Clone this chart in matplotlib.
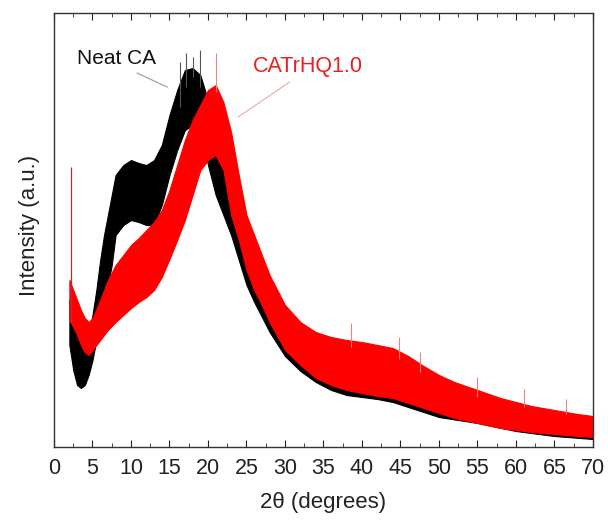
import numpy as np
import matplotlib
matplotlib.use("Agg")
import matplotlib.pyplot as plt
from matplotlib.ticker import MultipleLocator

plt.rcParams['font.family'] = ['Liberation Sans', 'DejaVu Sans']

# ---- data (intensity in arbitrary units) ----
neat_x = [2, 2.5, 3, 3.5, 4, 4.5, 5, 5.5, 6, 6.5, 7, 7.5, 8, 9, 10, 11, 12, 13, 14, 15,
          16, 17, 18, 19, 20, 21, 22, 23, 24, 25, 26, 27, 28, 30, 32, 34, 36, 38, 40, 42,
          44, 46, 48, 50, 55, 60, 65, 70]
neat_upper = [147, 127, 112, 102, 102, 112, 132, 157, 187, 212, 232, 252, 272, 282, 287, 284,
              282, 287, 302, 332, 357, 377, 379, 372, 347, 317, 287, 262, 237, 212, 192, 175,
              159, 135, 117, 105, 97, 92, 87, 85, 82, 77, 69, 62, 52, 42, 35, 29]
neat_lower = [102, 77, 62, 59, 62, 72, 87, 107, 127, 147, 162, 182, 212, 222, 227, 225, 222,
              222, 242, 272, 297, 317, 322, 317, 282, 252, 232, 212, 187, 162, 145, 130, 115,
              91, 76, 65, 57, 52, 50, 48, 45, 40, 35, 30, 24, 16, 11, 8]

hq_x = [2, 2.5, 3, 3.5, 4, 4.5, 5, 6, 7, 8, 9, 10, 11, 12, 13, 14, 15, 16, 17, 18, 19, 20,
        21, 22, 23, 24, 25, 26, 27, 28, 30, 32, 34, 36, 38, 40, 42, 44, 46, 48, 50, 52, 55,
        58, 60, 62, 65, 68, 70]
hq_upper = [167, 157, 147, 137, 129, 125, 129, 147, 167, 182, 192, 202, 209, 217, 225, 237,
            257, 282, 307, 327, 342, 357, 362, 345, 315, 272, 232, 212, 192, 172, 142, 125,
            115, 110, 107, 105, 102, 99, 91, 81, 72, 65, 57, 49, 45, 41, 37, 33, 31]
hq_lower = [127, 120, 112, 102, 95, 92, 97, 107, 117, 125, 132, 139, 145, 150, 157, 170, 188,
            207, 227, 252, 277, 287, 292, 277, 232, 207, 177, 157, 142, 125, 97, 82, 69, 62,
            57, 54, 51, 49, 44, 39, 34, 29, 24, 19, 17, 15, 13, 11, 10]

# isolated spikes: position, base, tip
neat_spike_x = [16.4, 17.1, 18.0, 19.0]
neat_spike_base = [340, 360, 370, 360]
neat_spike_tip = [385, 394, 390, 397]
hq_spike_x = [2.2, 21.0, 38.6, 44.8, 47.5, 55.0, 61.0, 66.5]
hq_spike_base = [125, 355, 100, 88, 75, 50, 40, 33]
hq_spike_tip = [280, 394, 124, 110, 95, 70, 58, 48]

x_ticks = [0, 5, 10, 15, 20, 25, 30, 35, 40, 45, 50, 55, 60, 65, 70]

# ---- figure ----
fig = plt.figure(figsize=(6.08, 5.23), dpi=100)
ax = fig.add_axes([0.0888, 0.1453, 0.8865, 0.8297])

ax.fill_between(neat_x, neat_lower, neat_upper, color='black', lw=0.8, edgecolor='black')
ax.vlines(neat_spike_x, neat_spike_base, neat_spike_tip, color='#555555', lw=0.8)
ax.fill_between(hq_x, hq_lower, hq_upper, color='#ff0000', lw=0.8, edgecolor='#ff0000')
ax.vlines(hq_spike_x[:1], hq_spike_base[:1], hq_spike_tip[:1], color='#b03030', lw=0.9)
ax.vlines(hq_spike_x[1:], hq_spike_base[1:], hq_spike_tip[1:], color='#f08080', lw=0.8)

ax.text(3.0, 389, 'Neat CA', fontsize=15, color='#111111', ha='left', va='center')
ax.plot([10.8, 14.7], [374, 360], color='#999999', lw=0.8)
ax.text(25.8, 381, 'CATrHQ1.0', fontsize=15.5, color='#e82020', ha='left', va='center')
ax.plot([30.6, 23.9], [365, 330], color='#f0a8a8', lw=0.8)

ax.set_xlim(0, 70)
ax.set_ylim(0, 434)
ax.set_xticks(x_ticks)
ax.xaxis.set_minor_locator(MultipleLocator(2.5))
ax.tick_params(axis='x', which='both', direction='in', top=True, labelsize=15.5, pad=8,
               colors='#222222')
ax.tick_params(axis='x', which='major', length=5)
ax.tick_params(axis='x', which='minor', length=3)
ax.set_yticks([])
for s in ax.spines.values():
    s.set_linewidth(1.0)
    s.set_color('#333333')

ax.set_xlabel('2θ (degrees)', fontsize=16, color='#222222')
ax.xaxis.label.set_va('center')
ax.xaxis.set_label_coords(0.499, -0.129)
ax.set_ylabel('Intensity (a.u.)', fontsize=16, color='#222222')
ax.yaxis.label.set_va('center')
ax.yaxis.set_label_coords(-0.045, 0.51)

fig.savefig('out.png', dpi=100)
